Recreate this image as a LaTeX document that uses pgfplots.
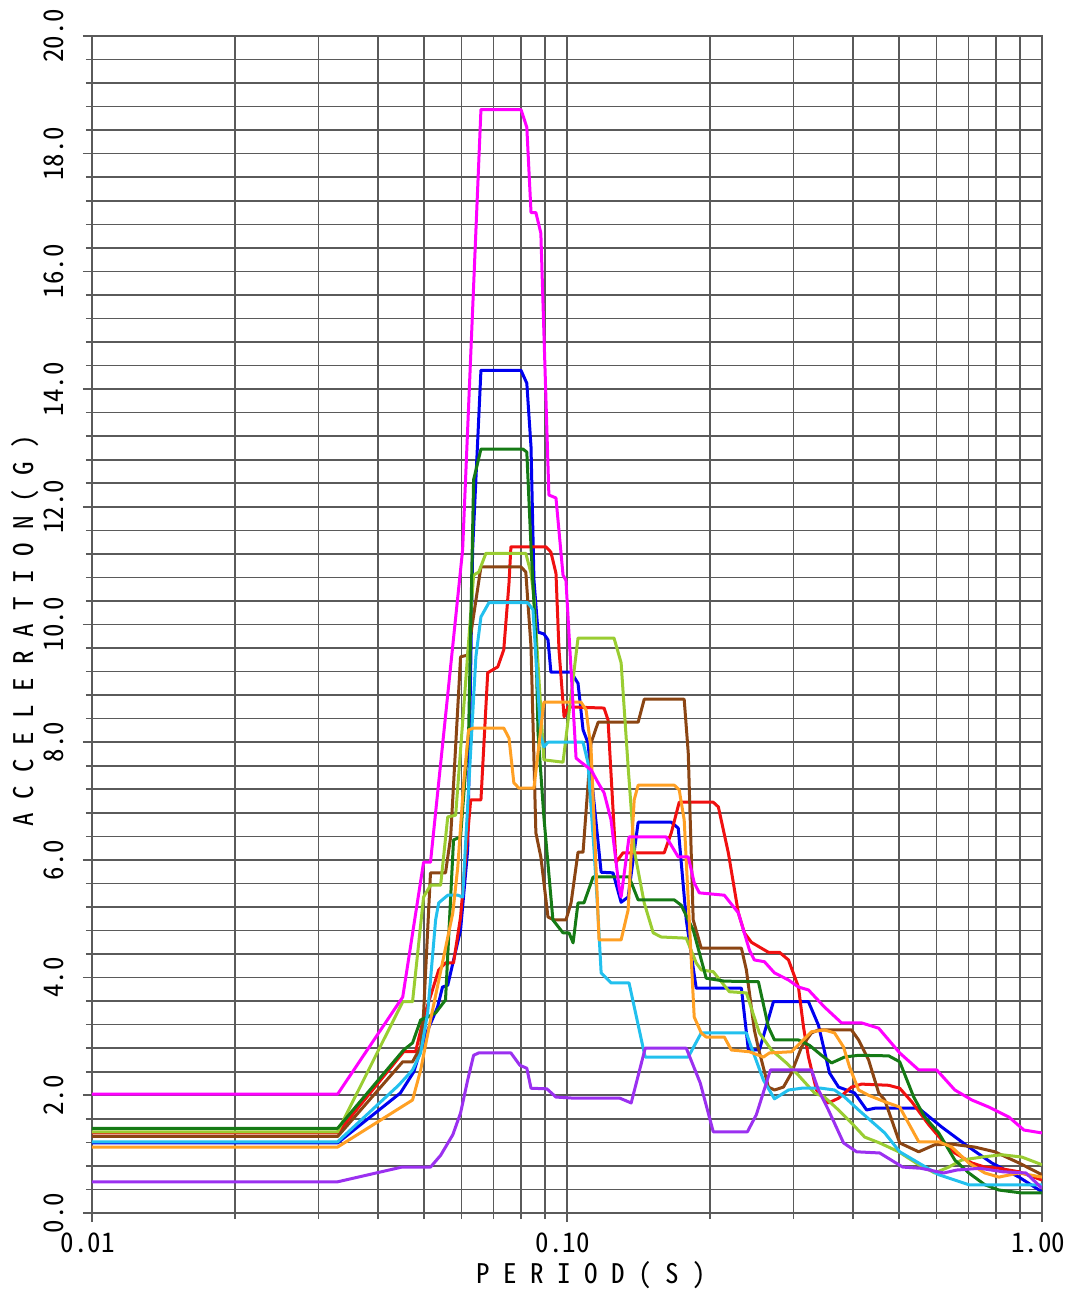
\documentclass[border=0pt]{standalone}
\usepackage{pgfplots}
\pgfplotsset{compat=1.18}
\usepackage{fontspec}
\newfontfamily\jp[RawFeature=+hwid]{Noto Sans CJK JP}

% letters set on a fixed pitch, as in the axis titles
\makeatletter
\newcommand\spaced[1]{\@tfor\next:=#1\do{\makebox[13.5pt][c]{\next}}}
\makeatother

\definecolor{cMag}{HTML}{FF00FF}
\definecolor{cBlue}{HTML}{0000F0}
\definecolor{cGreen}{HTML}{157A15}
\definecolor{cRed}{HTML}{F01010}
\definecolor{cYG}{HTML}{9ACD32}
\definecolor{cBrown}{HTML}{8B4513}
\definecolor{cCyan}{HTML}{22C0EE}
\definecolor{cOrange}{HTML}{FFA024}
\definecolor{cPurple}{HTML}{9B30F0}
\definecolor{gridc}{HTML}{5A5A5A}

\begin{document}
\begin{tikzpicture}
\useasboundingbox (-46pt,-40pt) rectangle (488.5pt,606.5pt);
\begin{axis}[
  scale only axis, width=475pt, height=588.5pt,
  xmode=log, xmin=0.01, xmax=1, ymin=0, ymax=20,
  xtick={0.01,0.1,1}, xticklabels={0.01,0.10,1.00},
  ytick={0,2,...,20},
  yticklabels={0.0,2.0,4.0,6.0,8.0,10.0,12.0,14.0,16.0,18.0,20.0},
  minor y tick num=4,
  grid=both,
  grid style={gridc, line width=0.8pt},
  major grid style={gridc, line width=0.8pt},
  minor grid style={gridc, line width=0.8pt},
  axis line style={gridc, line width=0.9pt},
  tick style={gridc, line width=0.8pt},
  tick align=outside,
  major tick length=4.5pt, minor tick length=3pt,
  xtick pos=bottom, ytick pos=left,
  ticklabel style={font=\jp\fontsize{13.5}{16}\selectfont, inner sep=0pt},
  yticklabel style={rotate=90, anchor=south},
  xticklabel style={anchor=north, xshift=-2pt},
  yticklabel shift=9.5pt,
  xticklabel shift=5pt,
  xlabel={\spaced{PERIOD(S)}},
  ylabel={\spaced{ACCELERATION(G)}},
  label style={font=\jp\fontsize{13.5}{16}\selectfont, inner sep=0pt},
  xlabel style={at={(axis description cs:0.526,0)}, anchor=center, yshift=-31pt},
  ylabel style={at={(axis description cs:-0.0705,0.495)}, anchor=center},
  no markers,
  every axis plot/.append style={line width=1.5pt, line join=round},
]
% blue
\addplot[cBlue] coordinates {
(0.01,1.19)(0.0329,1.19)(0.0446,2.04)(0.0476,2.40)(0.0499,2.94)(0.0534,3.50)(0.0547,3.84)(0.0561,3.87)
(0.0597,4.81)(0.0618,6.17)(0.0633,11.27)(0.0659,14.32)(0.0800,14.32)(0.0823,14.10)(0.0840,13.02)
(0.0852,10.76)(0.0869,9.87)(0.0894,9.84)(0.0912,9.74)(0.0925,9.19)(0.1020,9.19)(0.1055,9.00)
(0.1081,8.21)(0.1107,7.99)(0.1180,5.79)(0.1250,5.78)(0.1300,5.28)(0.1345,5.37)(0.1412,6.64)
(0.1658,6.64)(0.1715,6.54)(0.1783,4.98)(0.1871,3.82)(0.2329,3.82)(0.2409,2.77)(0.2541,2.77)
(0.2720,3.59)(0.3224,3.59)(0.3384,3.19)(0.3570,2.38)(0.3730,2.14)(0.4032,2.04)(0.4274,1.75)
(0.4444,1.78)(0.5502,1.78)(0.6152,1.46)(0.7015,1.12)(0.7843,0.85)(0.8944,0.61)(1.0,0.36)};
% red
\addplot[cRed] coordinates {
(0.01,1.36)(0.0329,1.36)(0.0453,2.74)(0.0480,2.74)(0.0499,3.31)(0.0537,4.13)(0.0555,4.25)(0.0577,4.25)
(0.0597,5.03)(0.0627,7.02)(0.0659,7.02)(0.0681,9.18)(0.0715,9.28)(0.0736,9.57)(0.0755,10.70)
(0.0762,11.32)(0.0903,11.32)(0.0925,11.23)(0.0948,10.87)(0.0962,9.57)(0.0986,8.43)(0.1005,8.60)
(0.1197,8.58)(0.1220,8.38)(0.1268,5.96)(0.1312,6.12)(0.1602,6.12)(0.1658,6.46)(0.1723,6.98)
(0.2032,6.98)(0.2083,6.90)(0.2186,6.12)(0.2295,5.10)(0.2363,4.76)(0.2445,4.60)(0.2541,4.52)
(0.2655,4.43)(0.2801,4.43)(0.2926,4.30)(0.3071,3.84)(0.3147,3.16)(0.3224,2.65)(0.3351,2.09)
(0.3552,1.87)(0.3730,1.95)(0.3973,2.14)(0.4172,2.19)(0.4757,2.17)(0.5017,2.12)(0.5318,1.89)
(0.5775,1.50)(0.6152,1.24)(0.6554,1.02)(0.7118,0.85)(0.7581,0.78)(0.8115,0.76)(0.8944,0.70)(1.0,0.56)};
% brown
\addplot[cBrown] coordinates {
(0.01,1.30)(0.0329,1.30)(0.0451,2.57)(0.0473,2.57)(0.0492,2.82)(0.0499,3.40)(0.0516,5.78)(0.0555,5.78)
(0.0569,6.39)(0.0597,9.45)(0.0618,9.48)(0.0659,10.98)(0.0800,10.98)(0.0819,10.89)(0.0840,9.62)
(0.0860,6.46)(0.0881,6.05)(0.0912,5.03)(0.0939,4.98)(0.0995,4.98)(0.1020,5.27)(0.1055,6.13)
(0.1081,6.13)(0.1124,7.99)(0.1163,8.34)(0.1412,8.34)(0.1454,8.73)(0.1765,8.73)(0.1800,7.82)
(0.1844,4.98)(0.1917,4.50)(0.2329,4.50)(0.2386,4.13)(0.2480,3.11)(0.2529,2.80)(0.2655,2.14)
(0.2734,2.09)(0.2856,2.14)(0.2969,2.38)(0.3117,2.82)(0.3271,3.06)(0.3384,3.11)(0.3973,3.11)
(0.4111,2.94)(0.4315,2.60)(0.4531,2.04)(0.4666,1.92)(0.5017,1.19)(0.5502,1.04)(0.5946,1.16)
(0.6458,1.17)(0.7222,1.12)(0.7958,1.04)(0.8944,0.85)(1.0,0.65)};
% yellow-green
\addplot[cYG] coordinates {
(0.01,1.38)(0.0329,1.38)(0.0451,3.59)(0.0473,3.59)(0.0499,5.37)(0.0516,5.57)(0.0542,5.57)(0.0561,6.73)
(0.0583,6.76)(0.0636,10.84)(0.0652,10.89)(0.0675,11.21)(0.0819,11.21)(0.0840,10.87)(0.0852,10.47)
(0.0894,7.70)(0.0981,7.66)(0.1055,9.77)(0.1256,9.77)(0.1300,9.35)(0.1345,7.58)(0.1385,6.17)
(0.1454,5.27)(0.1519,4.76)(0.1579,4.69)(0.1783,4.67)(0.1871,4.25)(0.1917,4.13)(0.2032,4.10)
(0.2197,3.76)(0.2386,3.74)(0.2541,3.06)(0.2694,2.77)(0.2897,2.55)(0.3071,2.34)(0.3319,2.04)
(0.3484,1.97)(0.3730,1.75)(0.3973,1.53)(0.4233,1.29)(0.4553,1.19)(0.4993,1.04)(0.5502,0.82)
(0.5946,0.68)(0.6365,0.78)(0.6780,0.90)(0.7471,0.95)(0.8234,0.99)(0.9075,0.95)(1.0,0.82)};
% dark green
\addplot[cGreen] coordinates {
(0.01,1.44)(0.0329,1.44)(0.0453,2.77)(0.0473,2.89)(0.0492,3.28)(0.0509,3.33)(0.0529,3.40)(0.0555,3.62)
(0.0577,6.34)(0.0597,6.39)(0.0621,8.21)(0.0636,12.46)(0.0659,12.98)(0.0808,12.98)(0.0823,12.93)
(0.0840,11.32)(0.0860,9.74)(0.0869,8.16)(0.0894,6.73)(0.0934,4.98)(0.0981,4.76)(0.1010,4.76)
(0.1030,4.59)(0.1055,5.27)(0.1086,5.27)(0.1135,5.71)(0.1351,5.71)(0.1412,5.32)(0.1682,5.32)
(0.1740,5.23)(0.1800,4.98)(0.1844,4.81)(0.1964,3.99)(0.2144,3.94)(0.2529,3.93)(0.2655,3.16)
(0.2734,2.94)(0.3071,2.94)(0.3239,2.85)(0.3434,2.68)(0.3606,2.55)(0.3841,2.65)(0.4111,2.68)
(0.4757,2.67)(0.5017,2.57)(0.5370,1.97)(0.5664,1.63)(0.6063,1.36)(0.6554,0.90)(0.7015,0.68)
(0.7581,0.48)(0.8115,0.39)(0.9075,0.34)(1.0,0.34)};
% cyan
\addplot[cCyan] coordinates {
(0.01,1.21)(0.0329,1.21)(0.0442,2.17)(0.0473,2.43)(0.0492,2.72)(0.0509,3.40)(0.0529,4.98)(0.0537,5.27)
(0.0561,5.40)(0.0589,5.40)(0.0603,5.37)(0.0643,9.45)(0.0659,10.13)(0.0685,10.37)(0.0827,10.37)
(0.0848,10.25)(0.0881,8.09)(0.0894,7.92)(0.0912,8.00)(0.1081,8.00)(0.1107,7.65)(0.1140,6.17)
(0.1163,5.03)(0.1180,4.08)(0.1238,3.91)(0.1351,3.91)(0.1447,2.80)(0.1461,2.65)(0.1800,2.65)
(0.1917,3.06)(0.2386,3.06)(0.2421,2.91)(0.2591,2.26)(0.2734,1.94)(0.2926,2.09)(0.3117,2.12)
(0.3434,2.12)(0.3658,2.09)(0.3841,1.97)(0.4111,1.75)(0.4666,1.36)(0.5017,1.04)(0.5502,0.85)
(0.6063,0.65)(0.6554,0.56)(0.7015,0.48)(1.0,0.48)};
% orange
\addplot[cOrange] coordinates {
(0.01,1.12)(0.0329,1.12)(0.0473,1.92)(0.0492,2.43)(0.0516,3.28)(0.0550,4.35)(0.0575,5.10)(0.0589,5.88)
(0.0606,7.31)(0.0621,8.21)(0.0636,8.24)(0.0736,8.24)(0.0755,8.07)(0.0773,7.31)(0.0792,7.22)
(0.0852,7.22)(0.0894,8.68)(0.1070,8.68)(0.1097,8.55)(0.1124,7.87)(0.1168,4.64)(0.1300,4.64)
(0.1345,5.15)(0.1385,7.02)(0.1412,7.27)(0.1682,7.27)(0.1723,7.19)(0.1765,6.68)(0.1809,4.98)
(0.1853,3.33)(0.1917,3.06)(0.1964,2.99)(0.2144,2.99)(0.2218,2.77)(0.2421,2.74)(0.2591,2.65)
(0.2668,2.72)(0.2969,2.74)(0.3117,2.91)(0.3271,3.08)(0.3484,3.11)(0.3658,3.06)(0.3822,2.82)
(0.3935,2.48)(0.4111,2.09)(0.4315,2.00)(0.4666,1.89)(0.5017,1.80)(0.5502,1.21)(0.6063,1.21)
(0.6458,1.12)(0.7015,0.85)(0.7581,0.68)(0.8115,0.61)(0.8944,0.68)(1.0,0.61)};
% magenta
\addplot[cMag] coordinates {
(0.01,2.02)(0.0329,2.02)(0.0451,3.67)(0.0499,5.96)(0.0516,5.96)(0.0603,11.27)(0.0659,18.75)
(0.0800,18.75)(0.0823,18.45)(0.0840,17.00)(0.0860,17.00)(0.0881,16.65)(0.0916,12.20)(0.0948,12.15)
(0.0981,10.84)(0.0995,10.75)(0.1045,7.73)(0.1070,7.66)(0.1124,7.53)(0.1163,7.31)(0.1197,7.14)
(0.1238,6.68)(0.1287,5.54)(0.1300,5.37)(0.1351,6.39)(0.1618,6.39)(0.1715,6.05)(0.1800,6.05)
(0.1853,5.61)(0.1899,5.44)(0.2144,5.40)(0.2295,5.10)(0.2421,4.47)(0.2480,4.30)(0.2604,4.27)
(0.2734,4.08)(0.2926,3.96)(0.3071,3.84)(0.3224,3.79)(0.3484,3.50)(0.3785,3.23)(0.4172,3.23)
(0.4531,3.14)(0.5017,2.72)(0.5502,2.43)(0.6004,2.43)(0.6554,2.09)(0.7118,1.92)(0.7730,1.80)
(0.8520,1.63)(0.9162,1.41)(1.0,1.36)};
% purple
\addplot[cPurple] coordinates {
(0.01,0.53)(0.0329,0.53)(0.0449,0.78)(0.0516,0.78)(0.0542,0.98)(0.0575,1.33)(0.0597,1.70)(0.0618,2.26)
(0.0636,2.68)(0.0652,2.72)(0.0762,2.72)(0.0796,2.51)(0.0823,2.46)(0.0840,2.12)(0.0907,2.11)
(0.0948,1.97)(0.1040,1.95)(0.1293,1.95)(0.1365,1.87)(0.1461,2.80)(0.1783,2.80)(0.1908,2.21)
(0.2032,1.38)(0.2398,1.38)(0.2504,1.67)(0.2681,2.43)(0.3271,2.43)(0.3384,2.09)(0.3552,1.75)
(0.3822,1.19)(0.4071,1.04)(0.4553,1.02)(0.5091,0.78)(0.5555,0.76)(0.6212,0.68)(0.6617,0.73)
(0.7399,0.76)(0.8274,0.70)(0.9252,0.68)(1.0,0.42)};
\end{axis}
\end{tikzpicture}
\end{document}
